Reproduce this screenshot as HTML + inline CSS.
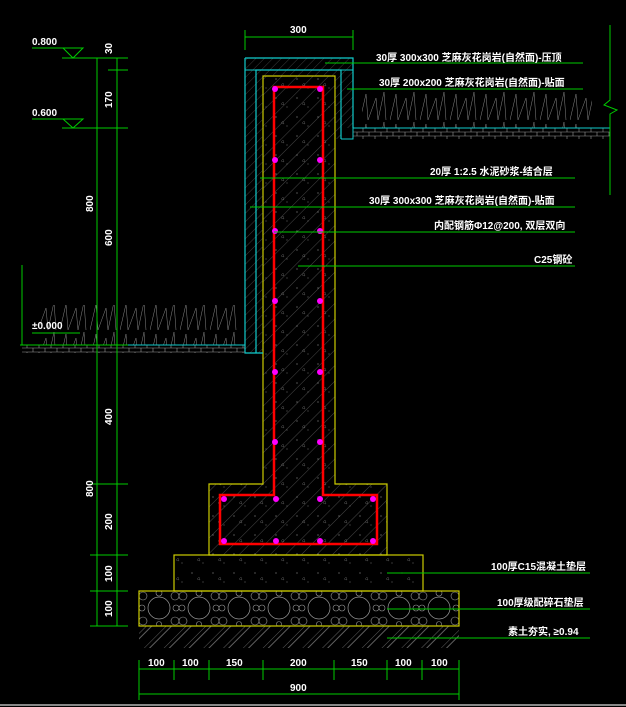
<!DOCTYPE html>
<html><head><meta charset="utf-8"><style>
html,body{margin:0;padding:0;background:#000;}
svg{display:block}
text{font-family:"Liberation Sans","Noto Sans CJK SC",sans-serif;fill:#fff;font-size:10px;font-weight:bold;}
</style></head><body>
<svg width="626" height="707" viewBox="0 0 626 707" xmlns="http://www.w3.org/2000/svg">
<defs>
<pattern id="h" width="11" height="11" patternUnits="userSpaceOnUse" patternTransform="rotate(45)">
<line x1="0" y1="0" x2="0" y2="11" stroke="#666" stroke-width="0.7"/></pattern>
<pattern id="h2" width="6" height="6" patternUnits="userSpaceOnUse" patternTransform="rotate(45)">
<line x1="0" y1="0" x2="0" y2="6" stroke="#777" stroke-width="0.5"/></pattern>
<pattern id="soil" width="14" height="14" patternUnits="userSpaceOnUse" patternTransform="rotate(45)">
<line x1="0" y1="0" x2="0" y2="14" stroke="#777" stroke-width="0.8"/><line x1="4" y1="0" x2="4" y2="14" stroke="#777" stroke-width="0.8"/></pattern>
<pattern id="dots" width="21" height="19" patternUnits="userSpaceOnUse">
<circle cx="3" cy="3" r="0.6" fill="#888"/><circle cx="14" cy="12" r="0.5" fill="#888"/><path d="M8 9 l2 -2 l1 3z" fill="none" stroke="#666" stroke-width="0.4"/></pattern>
<pattern id="grav" width="40" height="35" patternUnits="userSpaceOnUse" x="139" y="591">
<circle cx="20" cy="17" r="11" fill="none" stroke="#999" stroke-width="0.7"/>
<circle cx="4" cy="5" r="4" fill="none" stroke="#999" stroke-width="0.6"/><circle cx="36" cy="5" r="4" fill="none" stroke="#999" stroke-width="0.6"/>
<circle cx="4" cy="30" r="4" fill="none" stroke="#999" stroke-width="0.6"/><circle cx="36" cy="30" r="4" fill="none" stroke="#999" stroke-width="0.6"/>
<circle cx="3" cy="17" r="3" fill="none" stroke="#999" stroke-width="0.6"/><circle cx="37" cy="17" r="3" fill="none" stroke="#999" stroke-width="0.6"/>
<circle cx="20" cy="2" r="3" fill="none" stroke="#999" stroke-width="0.6"/><circle cx="20" cy="33" r="2.5" fill="none" stroke="#999" stroke-width="0.6"/></pattern>
<pattern id="pave" width="12" height="8" patternUnits="userSpaceOnUse">
<path d="M0 0H12M0 4H12M0 8H12M3 0V4M9 4V8" stroke="#999" stroke-width="0.6" fill="none"/></pattern>
<pattern id="grass" width="30" height="30" patternUnits="userSpaceOnUse">
<path d="M0 30 L6 4 L8 30 L16 8 L18 30 L24 2 L26 30" fill="none" stroke="#888" stroke-width="0.5"/></pattern>
</defs>

<rect x="139" y="626" width="320" height="22" fill="url(#soil)"/>
<rect x="139" y="591" width="320" height="35" fill="url(#grav)" stroke="#cc0" stroke-width="1.2"/>
<rect x="174" y="555" width="249" height="36" fill="url(#dots)" stroke="#cc0" stroke-width="1.2"/>
<path d="M263 76 H335 V484 H387 V555 H209 V484 H263 Z" fill="url(#h)"/>
<path d="M263 76 H335 V484 H387 V555 H209 V484 H263 Z" fill="url(#dots)" stroke="#cc0" stroke-width="1.2"/>
<path d="M245 58 H353 V128 H341 V139 H335 V76 H263 V353 H245 Z" fill="url(#h2)"/>
<path d="M245 58 H353 V128 M341 139 V70 H256 V353 M245 58 V353 H263" fill="none" stroke="#1cc" stroke-width="1.2"/>
<path d="M245 70 H353" stroke="#1cc" stroke-width="1"/>
<path d="M341 139 H353 V128" stroke="#1cc" fill="none" stroke-width="1"/>
<path d="M274 495 V87 H323 V495 H377 V544 H220 V495 Z" fill="none" stroke="#f00" stroke-width="2.5"/>
<g fill="#f0f">
<circle cx="275" cy="89" r="3"/><circle cx="320" cy="89" r="3"/>
<circle cx="275" cy="160" r="3"/><circle cx="320" cy="160" r="3"/>
<circle cx="275" cy="231" r="3"/><circle cx="320" cy="231" r="3"/>
<circle cx="275" cy="301" r="3"/><circle cx="320" cy="301" r="3"/>
<circle cx="275" cy="372" r="3"/><circle cx="320" cy="372" r="3"/>
<circle cx="275" cy="442" r="3"/><circle cx="320" cy="442" r="3"/>
<circle cx="224" cy="499" r="3"/><circle cx="276" cy="499" r="3"/><circle cx="320" cy="499" r="3"/><circle cx="373" cy="499" r="3"/>
<circle cx="224" cy="541" r="3"/><circle cx="276" cy="541" r="3"/><circle cx="320" cy="541" r="3"/><circle cx="373" cy="541" r="3"/>
</g>

<rect x="40" y="305" width="200" height="40" fill="url(#grass)"/>
<rect x="22" y="345" width="223" height="8" fill="url(#pave)"/>
<line x1="20" y1="345" x2="245" y2="345" stroke="#1cc" stroke-width="1"/>
<rect x="362" y="92" width="230" height="36" fill="url(#grass)"/>
<rect x="353" y="128" width="257" height="11" fill="url(#pave)"/>
<line x1="353" y1="128" x2="610" y2="128" stroke="#1cc" stroke-width="1"/>
<path d="M610 25 V100 L604 105 L617 110 L610 114 V195" fill="none" stroke="#0c0" stroke-width="1"/>

<g stroke="#0c0" stroke-width="1" fill="none">
<path d="M245 37 H353 M245 30 V50 M353 30 V50"/>
<path d="M97 58 V345 M117 58 V345 M97 345 V626 M117 345 V626"/>
<path d="M62 58 H128 M108 70 H128 M62 128 H128 M20 345 H128 M90 484 H128 M90 555 H128 M90 591 H128 M90 626 H128"/>
<path d="M22 265 V345"/>
<path d="M32 48 H83 L73 58 L63 48"/><path d="M32 119 H83 L73 128 L63 119"/>
<path d="M32 333 H80"/>
<path d="M139 669 H459 M139 660 V700 M174 660 V680 M209 660 V680 M263 660 V680 M334 660 V680 M387 660 V680 M422 660 V680 M459 660 V700 M139 694 H459"/>
<path d="M325 63 H583 M347 89 H583 M260 178 H575 M250 207 H575 M274 232 H575 M298 266 H575 M387 573 H590 M387 609 H590 M387 638 H590"/>
</g>

<text x="290" y="33">300</text>
<text x="32" y="45">0.800</text>
<text x="32" y="116">0.600</text>
<text x="32" y="329">±0.000</text>
<g font-size="10">
<text transform="translate(112,54) rotate(-90)">30</text>
<text transform="translate(112,108) rotate(-90)">170</text>
<text transform="translate(93,212) rotate(-90)">800</text>
<text transform="translate(112,246) rotate(-90)">600</text>
<text transform="translate(112,425) rotate(-90)">400</text>
<text transform="translate(93,497) rotate(-90)">800</text>
<text transform="translate(112,530) rotate(-90)">200</text>
<text transform="translate(112,582) rotate(-90)">100</text>
<text transform="translate(112,617) rotate(-90)">100</text>
</g>
<g font-size="10">
<text x="148" y="666">100</text><text x="182" y="666">100</text><text x="226" y="666">150</text>
<text x="290" y="666">200</text><text x="351" y="666">150</text><text x="395" y="666">100</text><text x="431" y="666">100</text>
<text x="290" y="691">900</text>
</g>
<g font-size="10.5">
<text x="376" y="61">30厚 300x300 芝麻灰花岗岩(自然面)-压顶</text>
<text x="379" y="86">30厚 200x200 芝麻灰花岗岩(自然面)-贴面</text>
<text x="430" y="175">20厚 1:2.5 水泥砂浆-结合层</text>
<text x="369" y="204">30厚 300x300 芝麻灰花岗岩(自然面)-贴面</text>
<text x="434" y="229">内配钢筋Φ12@200, 双层双向</text>
<text x="534" y="263">C25钢砼</text>
<text x="491" y="570">100厚C15混凝土垫层</text>
<text x="497" y="606">100厚级配碎石垫层</text>
<text x="508" y="635">素土夯实, ≥0.94</text>
</g>
<line x1="0" y1="705" x2="626" y2="705" stroke="#888" stroke-width="2"/>
</svg>
</body></html>
